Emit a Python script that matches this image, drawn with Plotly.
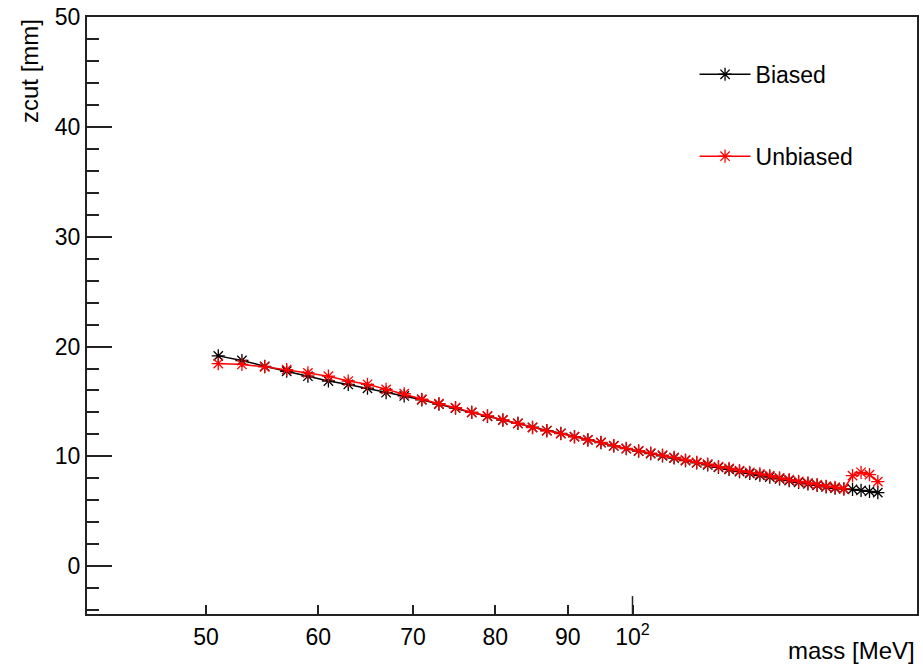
import plotly.graph_objects as go

mass = list(range(51, 150, 2))

biased = [19.15, 18.73, 18.2, 17.75, 17.3, 16.86, 16.55, 16.2, 15.8, 15.5,
          15.15, 14.75, 14.4, 14.0, 13.65, 13.3, 13.0, 12.65, 12.35, 12.1,
          11.8, 11.5, 11.25, 10.95, 10.7, 10.48, 10.25, 10.05, 9.85, 9.62,
          9.4, 9.22, 9.0, 8.82, 8.62, 8.45, 8.28, 8.12, 7.95, 7.8,
          7.64, 7.5, 7.36, 7.22, 7.1, 7.05, 7.0, 6.9, 6.82, 6.7]

unbiased = [18.45, 18.37, 18.15, 17.9, 17.6, 17.3, 16.86, 16.56, 16.1, 15.7,
            15.2, 14.8, 14.44, 14.0, 13.68, 13.32, 13.0, 12.62, 12.33, 12.08,
            11.78, 11.5, 11.27, 10.97, 10.72, 10.51, 10.3, 10.12, 9.9, 9.67,
            9.45, 9.3, 9.06, 8.91, 8.7, 8.55, 8.4, 8.25, 8.04, 7.88,
            7.73, 7.58, 7.43, 7.28, 7.19, 7.04, 8.25, 8.55, 8.34, 7.7]

xtick_vals = [50, 60, 70, 80, 90, 100]
xtick_text = ["50", "60", "70", "80", "90", "10<sup>2</sup>"]
ytick_vals = [0, 10, 20, 30, 40, 50]

FONT = "Liberation Sans, Arial, Helvetica, sans-serif"

fig = go.Figure()
fig.add_trace(go.Scatter(
    x=mass, y=biased, mode="lines+markers", name="Biased", legendgroup="b",
    line=dict(color="black", width=1.5),
    marker=dict(symbol="asterisk-open", size=11, color="black",
                line=dict(color="black", width=1.3)),
))
fig.add_trace(go.Scatter(
    x=mass, y=unbiased, mode="lines+markers", name="Unbiased", legendgroup="u",
    line=dict(color="red", width=1.5),
    marker=dict(symbol="asterisk-open", size=11, color="red",
                line=dict(color="red", width=1.3)),
))

# longer tick at 10^2
fig.add_shape(type="line", xref="x", yref="y domain", x0=100, x1=100,
              y0=0, y1=0.03, line=dict(color="#222", width=1.5))

fig.update_layout(
    width=923, height=667,
    margin=dict(l=87, r=4, t=14, b=53),
    paper_bgcolor="white", plot_bgcolor="white",
    font=dict(family=FONT, size=23, color="black"),
    showlegend=True,
    legend=dict(x=0.732, y=0.94, xanchor="left", yanchor="top",
                bgcolor="rgba(0,0,0,0)", borderwidth=0,
                traceorder="grouped", tracegroupgap=49, itemwidth=51,
                font=dict(size=23)),
    xaxis=dict(
        type="log", range=[1.61490, 2.20085],
        tickmode="array", tickvals=xtick_vals, ticktext=xtick_text,
        ticks="inside", ticklen=9, tickwidth=1.5, tickcolor="#222",
        ticklabelstandoff=1,
        showgrid=False, zeroline=False,
        showline=True, linecolor="#222", linewidth=2, mirror=True,
        tickfont=dict(size=23),
    ),
    yaxis=dict(
        range=[-4.35, 50],
        tickmode="array", tickvals=ytick_vals,
        ticks="inside", ticklen=25, tickwidth=1.5, tickcolor="#222",
        minor=dict(dtick=2, tick0=0, ticks="inside", ticklen=12,
                   tickwidth=1.5, tickcolor="#222", showgrid=False),
        showgrid=False, zeroline=False,
        showline=True, linecolor="#222", linewidth=2, mirror=True,
        tickfont=dict(size=23),
    ),
    annotations=[
        dict(text="mass [MeV]", xref="paper", yref="paper", x=1.0, y=0,
             xanchor="right", yanchor="top", yshift=-21, showarrow=False,
             font=dict(size=24)),
        dict(text="zcut [mm]", xref="paper", yref="paper", x=0, y=1.0,
             xanchor="center", yanchor="top", xshift=-58, textangle=-90,
             showarrow=False, font=dict(size=24)),
    ],
)

fig.write_html("out.html")
